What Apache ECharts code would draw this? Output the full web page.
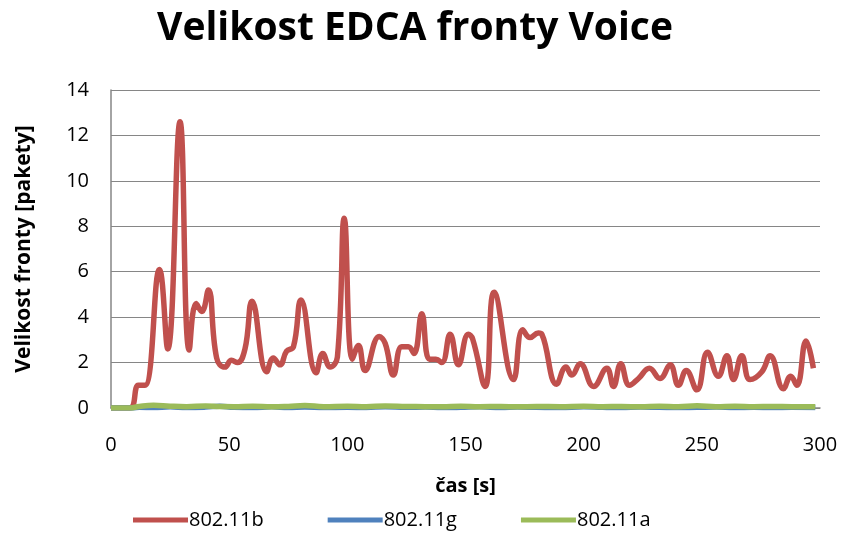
<!DOCTYPE html>
<html>
<head>
<meta charset="utf-8">
<title>Velikost EDCA fronty Voice</title>
<script src="https://cdn.jsdelivr.net/npm/echarts@6/dist/echarts.min.js"></script>
<style>
  html, body { margin: 0; padding: 0; background: #ffffff; }
  #chart { width: 844px; height: 535px; }
</style>
</head>
<body>
<div id="chart"></div>
<script>
// Queue length samples, time in seconds
const timeB = [0, 8, 11.6, 14.4, 20.5, 24, 29.2, 33.1, 36, 38.4, 41.2, 44.7, 48.2, 51, 53.5, 56.7, 59.7,
  65.9, 68.7, 71.5, 74.3, 77.2, 80.4, 86.8, 89.6, 92.7, 95.8, 98.7, 102.1, 104.7, 107.5, 113.5, 116,
  119.5, 123, 125.8, 128.2, 131.5, 134.7, 137.5, 140, 143.5, 147, 151.2, 153, 158.3, 162.1, 170.3,
  174.2, 177.3, 180.8, 182.3, 188.6, 192.5, 195, 198.5, 204.2, 209.8, 212.6, 215.7, 219.4, 223.2,
  227.8, 232.3, 236.6, 240.1, 243.4, 247.9, 252.4, 257, 260.6, 263.4, 266.9, 270.4, 275.4, 278.9,
  284.5, 287.6, 290.2, 294.1, 297.2];
const queueB = [0, 0, 1.0, 1.0, 6.1, 2.6, 12.6, 2.55, 4.6, 4.25, 5.2, 2.2, 1.8, 2.1, 2.0, 2.6, 4.7,
  1.6, 2.2, 1.9, 2.5, 2.7, 4.75, 1.55, 2.4, 1.8, 2.25, 8.35, 2.15, 2.75, 1.65, 3.15, 2.85,
  1.45, 2.7, 2.7, 2.4, 4.15, 2.15, 2.15, 2.0, 3.25, 1.9, 3.25, 3.05, 0.95, 5.1, 1.25,
  3.45, 3.1, 3.3, 3.25, 1.05, 1.8, 1.45, 1.95, 0.95, 1.75, 0.95, 1.95, 1.0, 1.3,
  1.75, 1.3, 1.9, 1.0, 1.65, 0.8, 2.45, 1.4, 2.3, 1.25, 2.3, 1.25, 1.6, 2.3,
  0.85, 1.4, 1.0, 2.95, 1.75];

const timeGA = [0, 8, 12, 18, 25, 32, 40, 46, 52, 60, 68, 75, 82, 90, 100, 108, 116, 125, 133, 140,
  148, 156, 165, 172, 180, 190, 200, 208, 216, 224, 232, 240, 248, 256, 264, 272, 280, 288, 298];
const queueG = [0, 0, 0.03, 0.02, 0.05, 0.02, 0.04, 0.08, 0.03, 0.02, 0.05, 0.02, 0.04, 0.02, 0.03,
  0.02, 0.06, 0.03, 0.04, 0.02, 0.03, 0.05, 0.02, 0.04, 0.03, 0.02, 0.05, 0.03, 0.02, 0.04,
  0.03, 0.02, 0.03, 0.04, 0.02, 0.03, 0.02, 0.03, 0.02];
const queueA = [0, 0, 0.07, 0.12, 0.08, 0.06, 0.09, 0.07, 0.06, 0.08, 0.05, 0.07, 0.11, 0.06, 0.08,
  0.06, 0.09, 0.07, 0.06, 0.05, 0.08, 0.06, 0.07, 0.05, 0.07, 0.06, 0.08, 0.06, 0.07, 0.05,
  0.08, 0.06, 0.1, 0.06, 0.08, 0.06, 0.07, 0.06, 0.06];

const seriesNames = ['802.11b', '802.11g', '802.11a'];
const seriesColors = ['#C0504D', '#4F81BD', '#9BBB59'];
const xTicks = { min: 0, max: 300, step: 50 };
const yTicks = { min: 0, max: 14, step: 2 };

const zip = (xs, ys) => xs.map((x, i) => [x, ys[i]]);
const fontFamily = "'Open Sans', sans-serif";

const chart = echarts.init(document.getElementById('chart'), null, { renderer: 'canvas' });

function lineSeries(name, color, data) {
  return {
    name: name,
    type: 'line',
    data: data,
    smooth: 0.45,
    showSymbol: false,
    symbol: 'none',
    lineStyle: { color: color, width: 5.5 },
    itemStyle: { color: color },
    emphasis: { disabled: true }
  };
}

chart.setOption({
  animation: false,
  backgroundColor: '#ffffff',
  title: {
    text: 'Velikost EDCA fronty Voice',
    left: 410,
    top: 4,
    textAlign: 'center',
    textStyle: { fontFamily: fontFamily, fontWeight: 'bold', fontSize: 39, color: '#000000' }
  },
  legend: {
    bottom: 0,
    left: 128,
    itemWidth: 55,
    itemHeight: 5,
    itemGap: 64,
    icon: 'rect',
    textStyle: { fontFamily: fontFamily, fontSize: 20, color: '#000000', padding: [0, 0, 0, -4] },
    data: seriesNames
  },
  grid: { left: 111, right: 24, top: 90, bottom: 127 },
  xAxis: {
    type: 'value',
    min: xTicks.min,
    max: xTicks.max,
    interval: xTicks.step,
    name: 'čas [s]',
    nameLocation: 'middle',
    nameGap: 68,
    nameTextStyle: { fontFamily: fontFamily, fontWeight: 'bold', fontSize: 20, color: '#000000' },
    axisLine: { show: true, lineStyle: { color: '#868686', width: 1.5 } },
    axisTick: { show: false },
    splitLine: { show: false },
    axisLabel: { fontFamily: fontFamily, fontSize: 20, color: '#000000', margin: 27 }
  },
  yAxis: {
    type: 'value',
    min: yTicks.min,
    max: yTicks.max,
    interval: yTicks.step,
    name: 'Velikost fronty [pakety]',
    nameLocation: 'middle',
    nameGap: 76,
    nameRotate: 90,
    nameTextStyle: { fontFamily: fontFamily, fontWeight: 'bold', fontSize: 21, color: '#000000' },
    axisLine: { show: true, lineStyle: { color: '#868686', width: 1.5 } },
    axisTick: { show: false },
    splitLine: { show: true, lineStyle: { color: '#868686', width: 1.2 } },
    axisLabel: { fontFamily: fontFamily, fontSize: 20, color: '#000000', margin: 22 }
  },
  series: [
    lineSeries(seriesNames[0], seriesColors[0], zip(timeB, queueB)),
    lineSeries(seriesNames[1], seriesColors[1], zip(timeGA, queueG)),
    lineSeries(seriesNames[2], seriesColors[2], zip(timeGA, queueA))
  ]
});
</script>
</body>
</html>
